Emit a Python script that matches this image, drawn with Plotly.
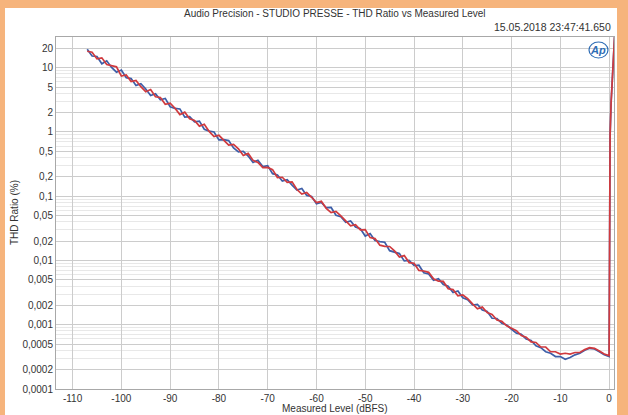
import plotly.graph_objects as go

# ---- data ----
level_main = list(range(-107, -19))  # -107 .. -20 dBFS
blue_main = [
    19.3, 15.2, 14.9, 11.5, 12.8, 10.1, 8.5, 9.2, 7.0, 6.76,
    5.27, 5.64, 4.65, 3.69, 3.92, 3.17, 3.32, 2.47, 2.32, 2.28,
    1.70, 1.73, 1.44, 1.47, 1.10, 1.03, 1.00, 0.753, 0.761, 0.733,
    0.564, 0.488, 0.500, 0.421, 0.335, 0.362, 0.290, 0.299, 0.224, 0.214,
    0.172, 0.181, 0.149, 0.125, 0.132, 0.103, 0.0990, 0.0764, 0.0802, 0.0662,
    0.0668, 0.0505, 0.0479, 0.0393, 0.0411, 0.0330, 0.0312, 0.0240, 0.0263, 0.0204,
    0.0196, 0.0192, 0.0142, 0.0135, 0.0128, 0.00983, 0.0100, 0.00835, 0.00845, 0.00644,
    0.00617, 0.00491, 0.00520, 0.00424, 0.00398, 0.00317, 0.00335, 0.00263, 0.00245, 0.00203,
    0.00207, 0.00169, 0.00161, 0.00126, 0.00125, 0.00105, 0.00099, 0.00085,
]
red_main = [
    18.0, 17.4, 13.7, 14.2, 11.2, 10.7, 10.3, 7.4, 7.7, 6.1,
    6.32, 5.06, 4.23, 4.57, 3.52, 3.43, 2.70, 2.81, 2.34, 1.86,
    2.03, 1.60, 1.51, 1.23, 1.32, 1.02, 0.844, 0.887, 0.739, 0.626,
    0.642, 0.546, 0.430, 0.463, 0.361, 0.335, 0.278, 0.280, 0.259, 0.195,
    0.197, 0.164, 0.167, 0.127, 0.108, 0.114, 0.0962, 0.0798, 0.0833, 0.0648,
    0.0554, 0.0580, 0.0493, 0.0414, 0.0347, 0.0360, 0.0300, 0.0302, 0.0227, 0.0219,
    0.0173, 0.0166, 0.0165, 0.0141, 0.0113, 0.0119, 0.00926, 0.00904, 0.00699, 0.00685,
    0.00654, 0.00518, 0.00476, 0.00472, 0.00363, 0.00352, 0.00282, 0.00290, 0.00255, 0.00211,
    0.00177, 0.00188, 0.00155, 0.00145, 0.00118, 0.00113, 0.00096, 0.00088,
]
level_tail = [-19, -18, -17, -16, -15, -14, -13, -12, -11, -10, -9, -8, -7, -6, -5,
              -4, -3, -2, -1, 0, 0.02, 0.05, 0.1, 0.2, 0.4, 0.6, 0.8, 1.0, 1.2]
blue_tail = [0.00074, 0.00071, 0.00060, 0.00057, 0.00047, 0.00044, 0.00038, 0.00036,
             0.00032, 0.00032, 0.00029, 0.00031, 0.00034, 0.00036, 0.00040, 0.00043,
             0.00042, 0.00038, 0.00034, 0.00032, 0.002, 0.03, 0.2, 0.9, 2.8, 6.5, 12, 22, 40]
red_tail = [0.00081, 0.00068, 0.00064, 0.00054, 0.00053, 0.00045, 0.00045, 0.00038,
            0.00038, 0.00035, 0.00036, 0.00035, 0.00037, 0.00037, 0.00041, 0.00044,
            0.00043, 0.00039, 0.00035, 0.00033, 0.002, 0.03, 0.2, 0.9, 2.8, 6.5, 12, 22, 40]

x_ticks = list(range(-110, 1, 10))
y_ticks = [0.0001, 0.0002, 0.0005, 0.001, 0.002, 0.005, 0.01, 0.02, 0.05,
           0.1, 0.2, 0.5, 1, 2, 5, 10, 20]
y_ticktext = ["0,0001", "0,0002", "0,0005", "0,001", "0,002", "0,005", "0,01", "0,02",
              "0,05", "0,1", "0,2", "0,5", "1", "2", "5", "10", "20"]
y_minor = [0.0003, 0.0004, 0.0006, 0.0007, 0.0008, 0.0009,
           0.003, 0.004, 0.006, 0.007, 0.008, 0.009,
           0.03, 0.04, 0.06, 0.07, 0.08, 0.09,
           0.3, 0.4, 0.6, 0.7, 0.8, 0.9,
           3, 4, 6, 7, 8, 9]

title_text = "Audio Precision - STUDIO PRESSE - THD Ratio vs Measured Level"
stamp_text = "15.05.2018 23:47:41.650"

# ---- layout geometry ----
W, H = 628, 415
ML, MR, MT, MB = 56, 14, 37, 26
PW, PH = W - ML - MR, H - MT - MB


def px_x(p):
    return (p - ML) / PW


def px_y(p):
    return (H - MB - p) / PH


FONT = "Liberation Sans, Arial, sans-serif"
TXT = "#333333"

fig = go.Figure()
fig.add_trace(go.Scatter(x=level_main + level_tail, y=blue_main + blue_tail,
                         mode="lines", line=dict(color="#3d5ea8", width=1.7),
                         showlegend=False, hoverinfo="skip"))
fig.add_trace(go.Scatter(x=level_main + level_tail, y=red_main + red_tail,
                         mode="lines", line=dict(color="#d03a3e", width=1.7),
                         showlegend=False, hoverinfo="skip"))

fig.update_layout(
    width=W, height=H,
    margin=dict(l=ML, r=MR, t=MT, b=MB, pad=0),
    paper_bgcolor="#f6b47c",
    plot_bgcolor="white",
    font=dict(family=FONT, size=10, color=TXT),
    showlegend=False,
    xaxis=dict(range=[-113.4, 1.0], tickmode="array", tickvals=x_ticks,
               ticktext=[str(v) for v in x_ticks],
               showgrid=True, gridcolor="#cccccc", gridwidth=1, zeroline=False,
               showline=True, linecolor="#a8a8a8", linewidth=1, mirror=True,
               ticks="", tickfont=dict(size=10, color=TXT, family=FONT)),
    yaxis=dict(type="log", range=[-4, 1.4771], tickmode="array", tickvals=y_ticks,
               ticktext=y_ticktext,
               showgrid=True, gridcolor="#cccccc", gridwidth=1, zeroline=False,
               showline=True, linecolor="#a8a8a8", linewidth=1, mirror=True,
               ticks="", tickfont=dict(size=10, color=TXT, family=FONT),
               minor=dict(tickmode="array", tickvals=y_minor, showgrid=True,
                          gridcolor="#e8e8e8", gridwidth=1, ticks="")),
    shapes=[
        dict(type="rect", xref="paper", yref="paper", layer="below",
             x0=px_x(5), x1=px_x(617), y0=px_y(H + 5), y1=px_y(8),
             fillcolor="white", line=dict(width=0)),
        dict(type="circle", xref="paper", yref="paper", layer="above",
             x0=px_x(589), x1=px_x(608), y0=px_y(58), y1=px_y(42),
             line=dict(color="#2f6db5", width=1.2), fillcolor="rgba(0,0,0,0)"),
    ],
    annotations=[
        dict(text=title_text, xref="paper", yref="paper", x=0.5, y=px_y(13),
             xanchor="center", yanchor="middle", showarrow=False,
             font=dict(size=10, color=TXT, family=FONT)),
        dict(text=stamp_text, xref="paper", yref="paper", x=px_x(613), y=px_y(27),
             xanchor="right", yanchor="middle", showarrow=False,
             font=dict(size=10.5, color=TXT, family=FONT)),
        dict(text="THD Ratio (%)", xref="paper", yref="paper", x=px_x(14), y=0.5,
             xanchor="center", yanchor="middle", textangle=-90, showarrow=False,
             font=dict(size=10, color=TXT, family=FONT)),
        dict(text="Measured Level (dBFS)", xref="paper", yref="paper", x=0.5,
             y=px_y(408), xanchor="center", yanchor="middle", showarrow=False,
             font=dict(size=10, color=TXT, family=FONT)),
        dict(text="<b><i>Ap</i></b>", xref="paper", yref="paper", x=px_x(598),
             y=px_y(50), xanchor="center", yanchor="middle", showarrow=False,
             font=dict(size=11, color="#2f6db5", family=FONT)),
    ],
)

fig.write_html("out.html")
